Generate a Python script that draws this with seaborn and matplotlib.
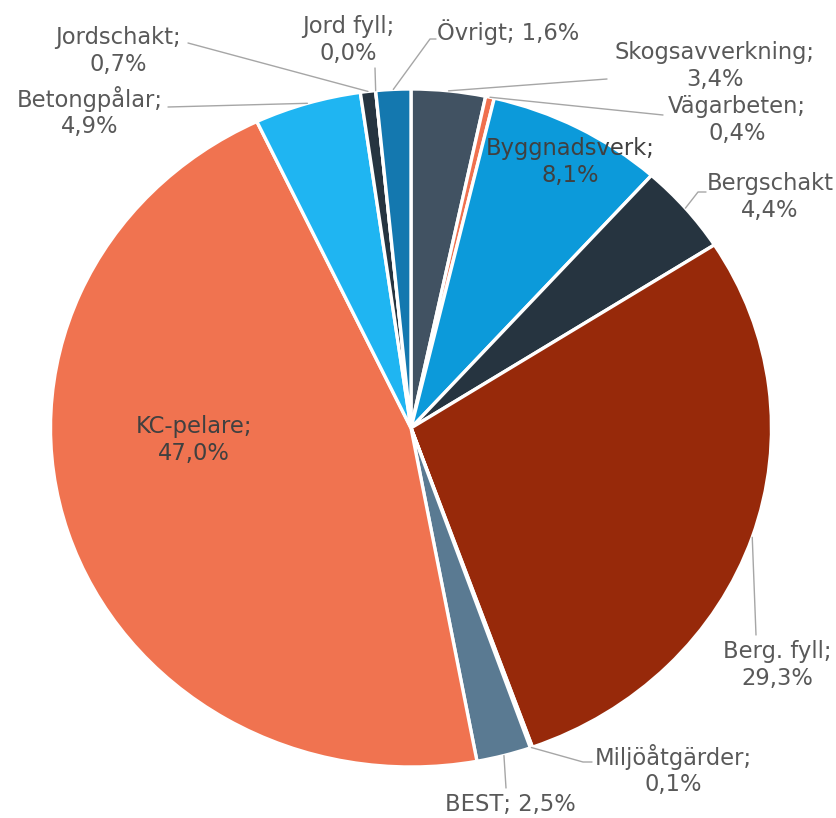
import numpy as np
import matplotlib
matplotlib.use("Agg")
import matplotlib.pyplot as plt
import seaborn as sns

# Data (clockwise from 12 o'clock)
labels = ["Skogsavverkning", "Vägarbeten", "Byggnadsverk", "Bergschakt", "Berg. fyll",
          "Miljöåtgärder", "BEST", "KC-pelare", "Betongpålar", "Jordschakt", "Jord fyll", "Övrigt"]
shares = [3.4, 0.4, 8.1, 4.4, 29.3, 0.1, 2.5, 47.0, 4.9, 0.7, 0.0, 1.6]
colors = ["#415262", "#F0704E", "#0C9ADA", "#263440", "#97290A", "#F0704E",
          "#5A7A92", "#F07350", "#1FB5F2", "#263440", "#5A7A92", "#1478AF"]

sns.set_theme(style="white")
plt.rcParams["font.family"] = ["DejaVu Sans"]

W, H = 837, 818
CX, CY, RX, RY = 411, 428, 360.5, 339

fig = plt.figure(figsize=(W / 100, H / 100), dpi=100)
ax = fig.add_axes([(CX - RX) / W, (H - CY - RY) / H, 2 * RX / W, 2 * RY / H])

wedges, _ = ax.pie(shares, colors=sns.color_palette(colors), startangle=90, counterclock=False,
                   radius=1, wedgeprops=dict(edgecolor="white", linewidth=2.4))
ax.set_xlim(-1, 1)
ax.set_ylim(-1, 1)
ax.set_aspect("auto")
ax.axis("off")


def to_data(px, py):
    return (px - CX) / RX, (CY - py) / RY


# label layout in pixels: (x, y, ha, one_line)
label_pos = {
    "Skogsavverkning": (715, 66, "center", False),
    "Vägarbeten": (737, 120, "center", False),
    "Byggnadsverk": (570, 162, "center", False),
    "Bergschakt": (770, 197, "center", False),
    "Berg. fyll": (777, 665, "center", False),
    "Miljöåtgärder": (673, 770, "center", False),
    "BEST": (510, 804, "center", True),
    "KC-pelare": (194, 440, "center", False),
    "Betongpålar": (90, 112, "center", False),
    "Jordschakt": (118, 51, "center", False),
    "Jord fyll": (348, 40, "center", False),
    "Övrigt": (437, 32, "left", True),
}
# leader line points after the slice anchor (pixels)
leaders = {
    "Skogsavverkning": [(607, 79)],
    "Vägarbeten": [(663, 115)],
    "Bergschakt": [(698, 192), (706, 192)],
    "Berg. fyll": [(756, 635)],
    "Miljöåtgärder": [(583, 762), (592, 762)],
    "BEST": [(506, 788)],
    "Betongpålar": [(168, 107)],
    "Jordschakt": [(188, 43)],
    "Jord fyll": [(375, 68)],
    "Övrigt": [(430, 39), (436, 39)],
}
inside = {"Byggnadsverk", "KC-pelare"}

for w, name, val in zip(wedges, labels, shares):
    num = f"{val:.1f}".replace(".", ",") + "%"
    x, y, ha, one = label_pos[name]
    if name == "Bergschakt":
        txt = f"{name}\n{num}"
    elif one:
        txt = f"{name}; {num}"
    else:
        txt = f"{name};\n{num}"
    tx, ty = to_data(x, y)
    ax.text(tx, ty, txt, ha=ha, va="center", fontsize=16.3, linespacing=1.22,
            color="#404040" if name in inside else "#595959", clip_on=False)
    if name in leaders:
        mid = np.deg2rad((w.theta1 + w.theta2) / 2)
        pts = [(np.cos(mid), np.sin(mid))] + [to_data(*p) for p in leaders[name]]
        xs, ys = zip(*pts)
        ax.plot(xs, ys, color="#A6A6A6", linewidth=1, clip_on=False)

fig.savefig("out.png", dpi=100)
